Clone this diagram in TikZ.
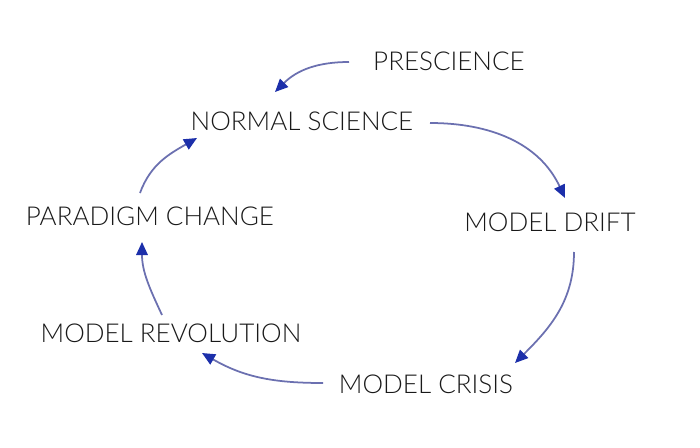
\documentclass[tikz,border=0pt]{standalone}
\usepackage{fontspec}
\setmainfont{Lato}[UprightFont={* Light}]
\usetikzlibrary{arrows.meta}
\definecolor{flowline}{HTML}{6B70B0}
\definecolor{flowtip}{HTML}{1C2FAA}
\begin{document}
\begin{tikzpicture}[
  stage/.style={inner sep=0pt, font=\fontsize{14.8}{18}\selectfont, text=black!90},
  flow/.style={flowline, line width=1.0pt, -{Triangle[length=2.6mm, width=2.3mm, color=flowtip]}}
]
\useasboundingbox (0,0) rectangle (14.000,8.940);
\node[stage] (pre)    at (8.980,7.720) {PRESCIENCE};
\node[stage] (norm)   at (6.040,6.520) {NORMAL SCIENCE};
\node[stage] (drift)  at (11.000,4.500) {MODEL DRIFT};
\node[stage] (crisis) at (8.520,1.260) {MODEL CRISIS};
\node[stage] (revol)  at (3.420,2.280) {MODEL REVOLUTION};
\node[stage] (parad)  at (3.000,4.620) {PARADIGM CHANGE};
\draw[flow] ([shift={(-2.00,-0.02)}]pre.center) to[out=180, in=45] ([shift={(-0.54,0.58)}]norm.center);
\draw[flow] ([shift={(2.56,-0.04)}]norm.center) to[out=0, in=115] ([shift={(0.30,0.48)}]drift.center);
\draw[flow] ([shift={(0.48,-0.60)}]drift.center) to[out=-90, in=45] ([shift={(1.78,0.42)}]crisis.center);
\draw[flow] ([shift={(-2.06,0.02)}]crisis.center) to[out=180, in=-30] ([shift={(0.62,-0.40)}]revol.center);
\draw[flow] ([shift={(-0.18,0.36)}]revol.center) to[out=115, in=-90] ([shift={(-0.16,-0.52)}]parad.center);
\draw[flow] ([shift={(-0.20,0.46)}]parad.center) to[out=70, in=-150] ([shift={(-2.10,-0.34)}]norm.center);
\end{tikzpicture}
\end{document}
